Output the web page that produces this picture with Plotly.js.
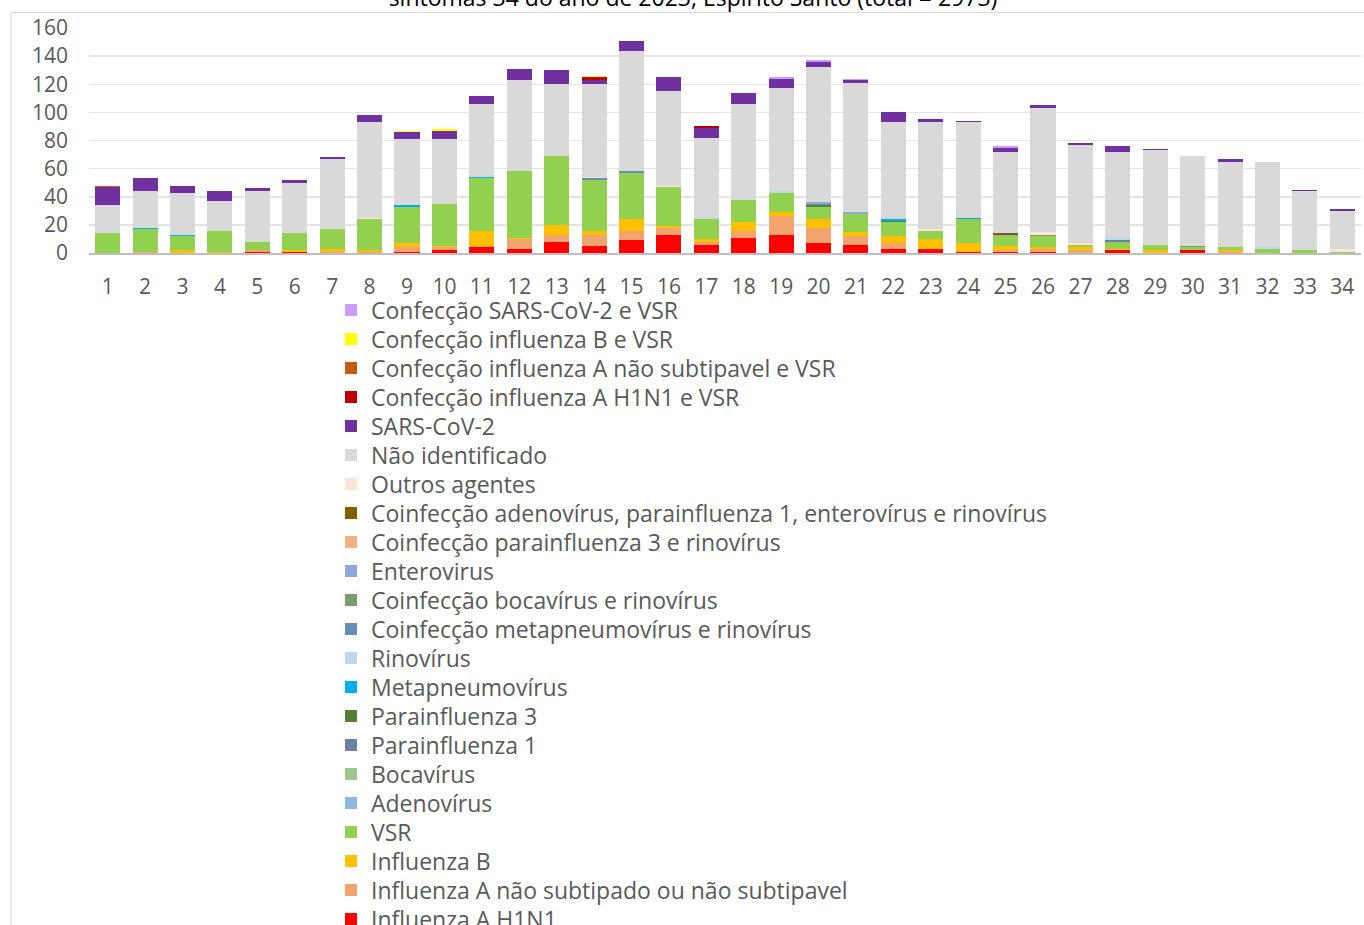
<!DOCTYPE html>
<html>
<head>
<meta charset="utf-8">
<script src="https://cdn.plot.ly/plotly-3.0.1.min.js"></script>
<style>
html, body { margin:0; padding:0; overflow:hidden; width:1364px; height:925px; background:#fff; }
#chart { width:1364px; height:1000px; }
</style>
</head>
<body>
<div id="chart"></div>
<script>
// Semanas epidemiológicas
const weeks = ['1','2','3','4','5','6','7','8','9','10','11','12','13','14','15','16','17','18','19','20','21','22','23','24','25','26','27','28','29','30','31','32','33','34'];

// Séries (ordem de empilhamento, de baixo para cima)
const influenzaAH1N1   = [0,0,0,0,1,1,0,0,1,2, 4,3,8,5,9,13,6,11,13,7, 6,3,3,1,1,1,0,2,0,2, 0,0,0,0];
const influenzaANS     = [0,1,0,0,1,0,1,1,3,2, 1,7,5,8,7,5,2,5,13,11, 6,4,0,0,1,2,2,0,0,0, 1,0,0,0];
const influenzaB       = [0,0,2,1,0,1,2,1,3,1, 11,1,7,3,8,1,2,6,3,6, 3,5,7,6,3,1,2,1,2,0, 1,0,0,0];
const vsr              = [14,16,10,15,6,12,14,22,26,30, 37,47,49,36,33,28,14,16,14,9, 13,10,6,17,7,8,2,5,4,2, 2,3,2,1];
const adenovirus       = [0,0,0,0,0,0,0,0,0,0, 0,0,0,0,0,0,0,0,0,0, 0,0,0,0,0,0,0,0,0,0, 0,0,0,0];
const bocavirus        = [0,0,0,0,0,0,0,0,0,0, 0,0,0,0,0,0,0,0,0,0, 0,0,0,0,0,0,0,0,0,0, 0,0,0,0];
const parainfluenza1   = [0,0,0,0,0,0,0,0,0,0, 0,0,0,0,0,0,0,0,0,0, 0,0,0,0,0,0,0,1,0,0, 0,0,0,0];
const parainfluenza3   = [0,0,0,0,0,0,0,0,0,0, 0,0,0,0,0,0,0,0,0,1, 0,1,0,0,0,0,0,0,0,0, 0,0,0,0];
const metapneumovirus  = [0,1,1,0,0,0,0,0,1,0, 1,0,0,0,0,0,0,0,0,0, 0,1,0,1,0,0,0,0,0,0, 0,0,0,0];
const rinovirus        = [0,0,0,0,0,0,0,0,0,0, 0,0,0,0,0,0,1,0,1,0, 0,1,0,0,0,0,0,2,0,0, 0,1,0,0];
const coinfMetaRino    = [0,0,0,0,0,0,0,0,0,0, 0,0,0,1,1,0,0,0,0,1, 0,0,0,0,0,0,0,0,0,0, 0,0,0,0];
const coinfBocaRino    = [0,0,0,0,0,0,0,0,0,0, 0,0,0,0,0,0,0,0,0,0, 0,0,0,0,0,1,0,0,0,1, 0,0,0,0];
const enterovirus      = [0,0,0,0,0,0,0,0,0,0, 0,0,0,0,0,0,0,0,0,1, 1,0,0,0,1,0,0,0,0,0, 0,0,0,0];
const coinfPara3Rino   = [0,0,0,0,0,0,0,0,0,0, 0,0,0,0,0,0,0,0,0,0, 0,0,0,0,0,0,0,0,0,0, 0,0,0,0];
const coinfAdenoPara   = [0,0,0,0,0,0,0,0,0,0, 0,0,0,0,0,0,0,0,0,0, 0,0,0,0,1,0,0,0,0,0, 0,0,0,0];
const outrosAgentes    = [0,0,0,0,0,0,0,1,0,0, 0,0,0,1,0,1,0,0,0,0, 0,0,1,0,0,2,1,0,0,0, 0,0,0,2];
const naoIdentificado  = [20,26,30,21,36,36,50,68,47,46, 52,65,51,66,86,67,57,68,73,96, 92,68,76,68,58,88,70,61,67,64, 61,61,42,27];
const sarsCov2         = [13,9,5,7,2,2,1,5,5,6, 6,8,10,3,7,10,7,8,7,4, 2,7,2,1,3,2,1,4,1,0, 2,0,1,1];
const confH1N1Vsr      = [0,0,0,0,0,0,0,0,0,0, 0,0,0,2,0,0,1,0,0,0, 0,0,0,0,0,0,0,0,0,0, 0,0,0,0];
const confInfANSVsr    = [1,0,0,0,0,0,0,0,0,0, 0,0,0,0,0,0,0,0,0,0, 0,0,0,0,0,0,0,0,0,0, 0,0,0,0];
const confInfBVsr      = [0,0,0,0,0,0,0,0,1,1, 0,0,0,1,0,0,0,0,0,0, 0,0,0,0,0,0,0,0,0,0, 0,0,0,0];
const confSarsVsr      = [0,0,0,0,0,0,0,0,0,0, 0,0,0,0,0,0,0,0,1,1, 1,0,0,0,1,0,0,0,0,0, 0,0,0,0];

const seriesNames = [
  'Influenza A H1N1',
  'Influenza A não subtipado ou não subtipavel',
  'Influenza B',
  'VSR',
  'Adenovírus',
  'Bocavírus',
  'Parainfluenza 1',
  'Parainfluenza 3',
  'Metapneumovírus',
  'Rinovírus',
  'Coinfecção metapneumovírus e rinovírus',
  'Coinfecção bocavírus e rinovírus',
  'Enterovirus',
  'Coinfecção parainfluenza 3 e rinovírus',
  'Coinfecção adenovírus, parainfluenza 1, enterovírus e rinovírus',
  'Outros agentes',
  'Não identificado',
  'SARS-CoV-2',
  'Confecção influenza A H1N1 e VSR',
  'Confecção influenza A não subtipavel e VSR',
  'Confecção influenza B e VSR',
  'Confecção SARS-CoV-2 e VSR'
];
const seriesValues = [
  influenzaAH1N1, influenzaANS, influenzaB, vsr, adenovirus, bocavirus,
  parainfluenza1, parainfluenza3, metapneumovirus, rinovirus, coinfMetaRino,
  coinfBocaRino, enterovirus, coinfPara3Rino, coinfAdenoPara, outrosAgentes,
  naoIdentificado, sarsCov2, confH1N1Vsr, confInfANSVsr, confInfBVsr, confSarsVsr
];
const seriesColors = [
  '#FF0000', '#F2A46F', '#FFC000', '#92D050', '#8DB9E2', '#9DC78A',
  '#6A7FA6', '#548235', '#00B0F0', '#BDD7EE', '#658EB6',
  '#7A9C6A', '#8EA9DB', '#F4B183', '#7F6000', '#FBE5D6',
  '#D9D9D9', '#7030A0', '#C00000', '#C55A11', '#FFFF00', '#CC99FF'
];

// layout geometry
const W = 1364, H = 1000, L = 89, R = 3, T = 28, B = 747;
const pw = W - L - R, ph = H - T - B;
const px2x = px => (px - L) / pw;
const py2y = py => (H - B - py) / ph;

const FONT = 'Open Sans, sans-serif';
const nSeries = seriesNames.length;

// one legend per entry so that rows keep the reference spacing
const legendKey = i => (i === 0 ? 'legend' : 'legend' + (i + 1));

const traces = seriesNames.map((name, i) => ({
  type: 'bar',
  name: name,
  x: weeks,
  y: seriesValues[i],
  marker: { color: seriesColors[i] },
  legend: legendKey(nSeries - 1 - i),
  hoverinfo: 'x+y+name'
}));

const layout = {
  width: W, height: H,
  margin: { l: L, r: R, t: T, b: B, pad: 0, autoexpand: false },
  paper_bgcolor: '#ffffff',
  plot_bgcolor: '#ffffff',
  barmode: 'stack',
  bargap: 0.33,
  font: { family: FONT, size: 20, color: '#595959' },
  title: {
    text: 'sintomas 34 do ano de 2023, Espírito Santo (total = 2973)',
    font: { family: FONT, size: 23, color: '#000000' },
    xref: 'container', yref: 'container',
    x: 693 / W, xanchor: 'center',
    y: 1 - 6 / H, yanchor: 'bottom'
  },
  xaxis: {
    type: 'category',
    tickmode: 'linear', dtick: 1,
    showgrid: false,
    showline: true, linecolor: '#BFBFBF', linewidth: 1.5,
    ticks: '', ticklabelstandoff: 14,
    tickfont: { family: FONT, size: 21, color: '#595959' },
    fixedrange: true
  },
  yaxis: {
    range: [0, 160],
    dtick: 20,
    showgrid: true, gridcolor: '#E3E3E3', gridwidth: 1.5,
    zeroline: false,
    showline: false,
    ticks: '', ticklabelstandoff: 20,
    tickfont: { family: FONT, size: 21, color: '#595959' },
    fixedrange: true
  },
  showlegend: true,
  shapes: [
    {
      type: 'rect', xref: 'paper', yref: 'paper',
      x0: px2x(11), x1: px2x(1370), y0: py2y(1010), y1: py2y(12.5),
      line: { color: '#D9D9D9', width: 1 }, fillcolor: 'rgba(0,0,0,0)', layer: 'below'
    }
  ]
};

for (let k = 0; k < nSeries; k++) {
  layout[legendKey(k)] = {
    orientation: 'v',
    xref: 'container', yref: 'container',
    x: 331 / W, xanchor: 'left',
    y: 1 - (310 + 29 * k) / H, yanchor: 'middle',
    font: { family: FONT, size: 23, color: '#595959' },
    bgcolor: 'rgba(0,0,0,0)',
    itemclick: false, itemdoubleclick: false
  };
}

Plotly.newPlot('chart', traces, layout, { displayModeBar: false, staticPlot: true });
</script>
</body>
</html>
